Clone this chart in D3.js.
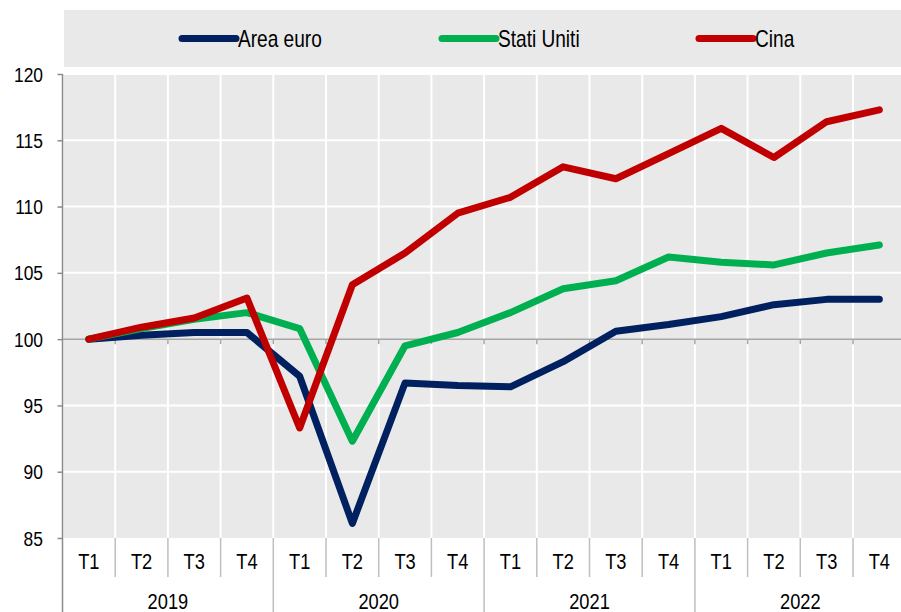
<!DOCTYPE html>
<html>
<head>
<meta charset="utf-8">
<script src="https://cdn.jsdelivr.net/npm/d3@7"></script>
<style>
  body { margin: 0; background: #fff; }
  svg text { font-family: "Liberation Sans", Arial, sans-serif; fill: #000; }
</style>
</head>
<body>
<svg width="901" height="612"></svg>
<script>
var years = ["2019", "2020", "2021", "2022"];
var quarters = ["T1", "T2", "T3", "T4"];
var areaEuro = [100, 100.3, 100.5, 100.5, 97.2, 86.1, 96.7, 96.5, 96.4, 98.3, 100.6, 101.1, 101.7, 102.6, 103.0, 103.0];
var statiUniti = [100, 100.8, 101.5, 102.0, 100.8, 92.3, 99.5, 100.5, 102.0, 103.8, 104.4, 106.2, 105.8, 105.6, 106.5, 107.1];
var cina = [100, 100.9, 101.6, 103.1, 93.3, 104.1, 106.5, 109.5, 110.7, 113.0, 112.1, 114.0, 115.9, 113.7, 116.4, 117.3];
var yTicks = [85, 90, 95, 100, 105, 110, 115, 120];

var seriesNames = ["Area euro", "Stati Uniti", "Cina"];
var seriesColors = ["#002060", "#00b050", "#c00000"];
var seriesData = [areaEuro, statiUniti, cina];

var svg = d3.select("svg");
var plotLeft = 62.5, plotTop = 74, plotBottom = 538, bandW = 52.7;
var squeeze = 0.83;

// categories built from years x quarters
var cats = [];
years.forEach(function(y) { quarters.forEach(function(q) { cats.push(y + "-" + q); }); });

var x = d3.scaleBand().domain(cats).range([plotLeft, plotLeft + bandW * cats.length]);
var y = d3.scaleLinear().domain([85, 120]).range([plotBottom, plotTop]);

// narrow-looking text
function label(sel, tx, ty, size, anchor, str) {
  return sel.append("text")
    .attr("transform", "translate(" + tx + "," + ty + ") scale(" + squeeze + ",1)")
    .attr("font-size", size).attr("text-anchor", anchor).text(str);
}

// plot background
svg.append("rect").attr("x", plotLeft + 1).attr("y", plotTop).attr("width", 901 - plotLeft).attr("height", plotBottom - plotTop).attr("fill", "#e9e9e9");

// legend box
svg.append("rect").attr("x", 64).attr("y", 10).attr("width", 840).attr("height", 57).attr("fill", "#e9e9e9");

// horizontal grid
svg.append("g").selectAll("line").data(yTicks.filter(function(d) { return d != 100 && d != 85; })).join("line")
  .attr("x1", plotLeft + 1).attr("x2", 901).attr("y1", function(d) { return y(d); }).attr("y2", function(d) { return y(d); })
  .attr("stroke", "#fff").attr("stroke-width", 2);

// vertical grid
svg.append("g").selectAll("line").data(cats.slice(1)).join("line")
  .attr("x1", function(d) { return x(d); }).attr("x2", function(d) { return x(d); })
  .attr("y1", plotTop).attr("y2", plotBottom).attr("stroke", "#fff").attr("stroke-width", 2);

// 100 line with ticks
svg.append("line").attr("x1", plotLeft).attr("x2", 901).attr("y1", y(100)).attr("y2", y(100))
  .attr("stroke", "#a6a6a6").attr("stroke-width", 1.5);
svg.append("g").selectAll("line").data(cats.slice(1)).join("line")
  .attr("x1", function(d) { return x(d); }).attr("x2", function(d) { return x(d); })
  .attr("y1", y(100)).attr("y2", y(100) + 5).attr("stroke", "#a6a6a6").attr("stroke-width", 1.5);

// y axis
var yAxis = svg.append("g").attr("transform", "translate(" + plotLeft + ",0)")
  .call(d3.axisLeft(y).tickValues(yTicks).tickSize(5).tickFormat(""));
yAxis.select(".domain").remove();
yAxis.selectAll(".tick line").attr("stroke", "#8c8c8c").attr("stroke-width", 1.5);
yTicks.forEach(function(t) { label(svg, 43, y(t) + 7.5, 21, "end", t); });
svg.append("line").attr("x1", plotLeft).attr("x2", plotLeft).attr("y1", plotTop).attr("y2", 612)
  .attr("stroke", "#8c8c8c").attr("stroke-width", 1.5);

// x axis: quarter separators and labels
svg.append("g").selectAll("line").data(cats.slice(1)).join("line")
  .attr("x1", function(d) { return x(d); }).attr("x2", function(d) { return x(d); })
  .attr("y1", plotBottom).attr("y2", function(d) { return d.slice(5) == "T1" ? 612 : 577; })
  .attr("stroke", "#bfbfbf").attr("stroke-width", 1.5);

cats.forEach(function(c) { label(svg, x(c) + x.bandwidth() / 2, 569, 22, "middle", c.slice(5)); });
years.forEach(function(yr) { label(svg, x(yr + "-T1") + bandW * 2, 609, 22, "middle", yr); });

// lines
var line = d3.line()
  .x(function(d, i) { return x(cats[i]) + x.bandwidth() / 2; })
  .y(function(d) { return y(d); });

seriesData.forEach(function(s, i) {
  svg.append("path").datum(s).attr("d", line).attr("fill", "none")
    .attr("stroke", seriesColors[i]).attr("stroke-width", 7)
    .attr("stroke-linejoin", "round").attr("stroke-linecap", "round");
});

// legend
var legX = [182, 442, 699];
seriesNames.forEach(function(n, i) {
  var g = svg.append("g");
  g.append("line").attr("x1", legX[i]).attr("x2", legX[i] + 54).attr("y1", 38.5).attr("y2", 38.5)
    .attr("stroke", seriesColors[i]).attr("stroke-width", 7).attr("stroke-linecap", "round");
  label(g, legX[i] + 56, 47, 23, "start", n);
});
</script>
</body>
</html>
